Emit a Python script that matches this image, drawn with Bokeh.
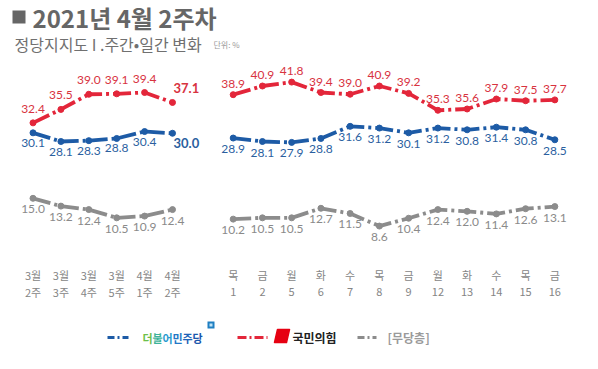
from bokeh.plotting import figure
from bokeh.models import Range1d
from bokeh.core.properties import value
from bokeh.embed import file_html
from bokeh.resources import INLINE

# ---- data ----
week_month = ["3월", "3월", "3월", "3월", "4월", "4월"]
week_num = ["2주", "3주", "4주", "5주", "1주", "2주"]
weekly_dem = [30.1, 28.1, 28.3, 28.8, 30.4, 30.0]
weekly_ppp = [32.4, 35.5, 39.0, 39.1, 39.4, 37.1]
weekly_ind = [15.0, 13.2, 12.4, 10.5, 10.9, 12.4]

day_names = ["목", "금", "월", "화", "수", "목", "금", "월", "화", "수", "목", "금"]
day_dates = ["1", "2", "5", "6", "7", "8", "9", "12", "13", "14", "15", "16"]
daily_dem = [28.9, 28.1, 27.9, 28.8, 31.6, 31.2, 30.1, 31.2, 30.8, 31.4, 30.8, 28.5]
daily_ppp = [38.9, 40.9, 41.8, 39.4, 39.0, 40.9, 39.2, 35.3, 35.6, 37.9, 37.5, 37.7]
daily_ind = [10.2, 10.5, 10.5, 12.7, 11.5, 8.6, 10.4, 12.4, 12.0, 11.4, 12.6, 13.1]

series_names = ["더불어민주당", "국민의힘", "[무당층]"]

BLUE = "#1d5ba6"
RED = "#e3263a"
GRAY = "#8c8c8c"
BLUE_T = "#2b5f9f"
RED_T = "#d8333f"
GRAY_T = "#8a8a8a"

KR = value("Noto Sans CJK KR")
NUM = value("Lato")

W, H = 582, 353
p = figure(width=W, height=H, output_backend="svg", toolbar_location=None,
           x_range=Range1d(0, W), y_range=Range1d(H, 0), min_border=0,
           x_axis_location=None, y_axis_location=None)
p.grid.visible = False
p.outline_line_color = None
p.background_fill_color = "white"
p.border_fill_color = "white"

p.extra_x_ranges = {"weekly": Range1d(-1.165, 19.695), "daily": Range1d(-7.958, 11.946)}
p.extra_y_ranges = {"pct": Range1d(-20.79, 60.62)}

xw = list(range(len(week_num)))
xd = list(range(len(day_dates)))

DASH = "18 4 3 4"


def draw(xs, ys, rng, color):
    p.line(xs, ys, x_range_name=rng, y_range_name="pct", line_color=color,
           line_width=3.8, line_dash=DASH)
    p.scatter(xs, ys, x_range_name=rng, y_range_name="pct", size=6,
              fill_color=color, line_color=color)


def labels(xs, ys, rng, color, dy, bold_last=False):
    n = len(xs) - 1 if bold_last else len(xs)
    p.text(xs[:n], ys[:n], text=[f"{v:.1f}" for v in ys[:n]], x_range_name=rng,
           y_range_name="pct", text_color=color, text_font=NUM,
           text_font_size=value("12px"), text_align="center",
           text_baseline="middle", y_offset=dy)
    if bold_last:
        p.text(xs[n:], ys[n:], text=[f"{v:.1f}" for v in ys[n:]], x_range_name=rng,
               y_range_name="pct", text_color=color, text_font=NUM,
               text_font_size=value("13px"), text_font_style="bold",
               text_align="left", text_baseline="middle", y_offset=dy, x_offset=1)


for xs, rng, dem, ppp, ind, dr, db, dg in [
        (xw, "weekly", weekly_dem, weekly_ppp, weekly_ind, -14, 10, 11),
        (xd, "daily", daily_dem, daily_ppp, daily_ind, -11, 11, 11)]:
    draw(xs, ind, rng, GRAY)
    draw(xs, dem, rng, BLUE)
    draw(xs, ppp, rng, RED)
    bl = rng == "weekly"
    labels(xs, ppp, rng, RED_T, dr, bold_last=bl)
    labels(xs, dem, rng, BLUE_T, db, bold_last=bl)
    labels(xs, ind, rng, GRAY_T, dg)

# x category labels
XL = "#858585"
for xs, rng, top, bot in [(xw, "weekly", week_month, week_num),
                          (xd, "daily", day_names, day_dates)]:
    p.text(xs, [274] * len(xs), text=top, x_range_name=rng, text_font=KR,
           text_font_size=value("11px"), text_color=XL, text_align="center",
           text_baseline="middle")
    p.text(xs, [291] * len(xs), text=bot, x_range_name=rng, text_font=KR,
           text_font_size=value("11px"), text_color=XL, text_align="center",
           text_baseline="middle")

# title
p.quad(left=[12], right=[25], top=[10], bottom=[23], fill_color="#666666", line_color=None)
p.text([32], [17], text=["2021년 4월 2주차"], text_font=KR, text_font_size=value("24px"),
       text_font_style="bold", text_color="#666666", text_baseline="middle")
p.text([14], [43], text=["정당지지도 I .주간•일간 변화"], text_font=KR,
       text_font_size=value("16px"), text_color="#707070", text_baseline="middle")
p.text([213], [44], text=["단위: %"], text_font=KR, text_font_size=value("8px"),
       text_color="#999999", text_baseline="middle")

# legend
LY = 337
p.line([107, 128], [LY, LY], line_color=BLUE, line_width=3, line_dash="7 3 2 3")
grad = ["#6cc04a", "#3db39a", "#2a9bd0", "#2377c6", "#1f64b8", "#1b57ad"]
p.text([147 + 10 * i for i in range(6)], [LY] * 6, text=list(series_names[0]),
       text_color=grad, text_font=KR, text_font_size=value("11px"),
       text_font_style="bold", text_align="center", text_baseline="middle")
p.quad(left=[207], right=[214], top=[321], bottom=[328], fill_color="#1f7fc2", line_color=None)
p.quad(left=[209], right=[212], top=[323], bottom=[326], fill_color="#bfe3f5", line_color=None)

p.line([237, 267], [LY, LY], line_color=RED, line_width=3, line_dash="9 3 2 3")
p.patch([277, 289, 286, 274], [329, 329, 342, 342], fill_color="#e60012", line_color="#e60012",
        line_width=1.5, line_join="round")
p.text([292], [LY], text=[series_names[1]], text_color="#222222", text_font=KR,
       text_font_size=value("12px"), text_font_style="bold", text_baseline="middle")

p.line([357, 376], [LY, LY], line_color=GRAY, line_width=3, line_dash="7 3 2 3")
p.text([387], [LY], text=[series_names[2]], text_color="#9a9a9a", text_font=KR,
       text_font_size=value("12px"), text_font_style="bold", text_baseline="middle")

open("out.html", "w").write(file_html(p, INLINE))
